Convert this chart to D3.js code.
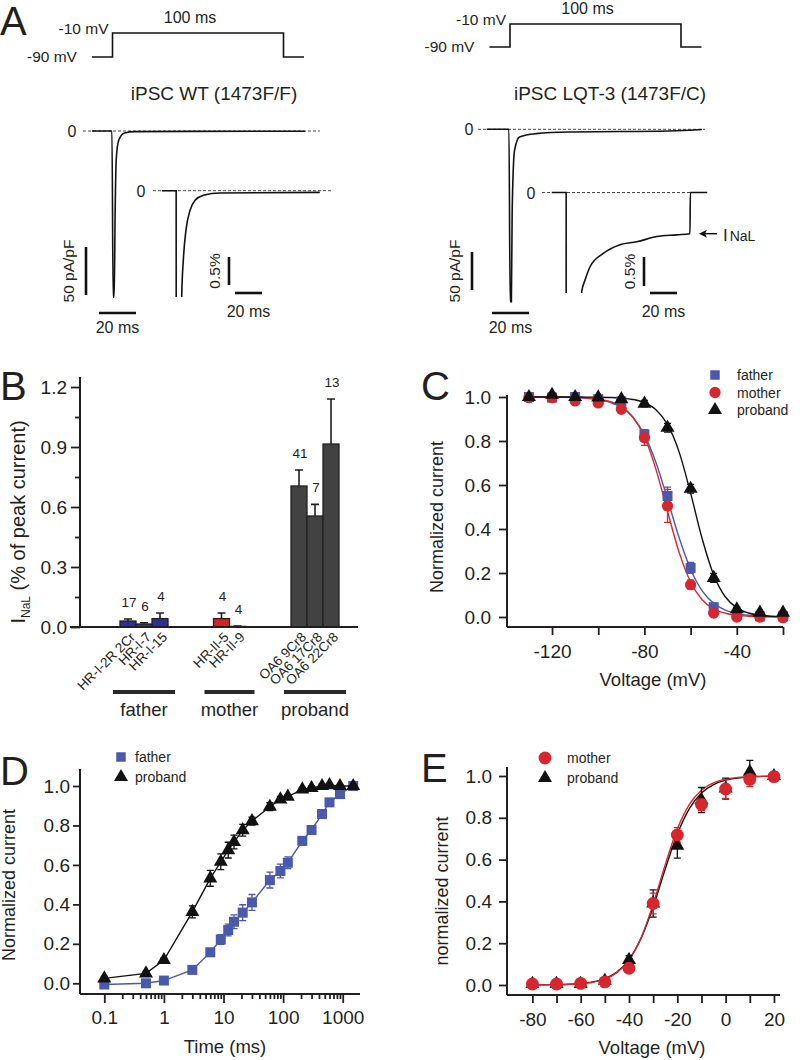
<!DOCTYPE html>
<html lang="en">
<head>
  <meta charset="UTF-8">
  <title>INaL figure</title>
  <style>
    body { margin: 0; background: #fff; }
    svg { font-family: "Liberation Sans", Arial, sans-serif; }
    text { fill: #231f20; }
    .axis path { display: none; }
    .axis line { stroke: #231f20; stroke-width: 1.8px; }
    .axis text { font-size: 19px; font-family: "Liberation Sans", Arial, sans-serif; fill: #231f20; }
    .dom { stroke: #231f20; stroke-width: 2px; }
    .trace { fill: none; stroke: #111; stroke-width: 1.6px; }
    .zero { stroke: #333; stroke-width: 0.9px; stroke-dasharray: 3 2; }
    .bar-scale { stroke: #111; stroke-width: 2.6px; }
  </style>
</head>
<body>
  <svg width="800" height="1060"></svg>
  <script src="https://cdn.jsdelivr.net/npm/d3@7"></script>
  <script>
    // ---------- data ----------
    // A: voltage step protocol (ms, mV)
    var protocolT = [-12, 0, 0, 100, 100, 112]
    var protocolV = [-90, -90, -10, -10, -90, -90]
    // A: recordings, [ms, pA/pF] for the whole trace, [ms, % of peak] for the insets
    var wtMain = [[-11.1, 0], [-0.3, 0], [0.35, -173], [0.9, -173], [1.45, -82], [2, -30], [3.4, -9.4], [6.5, -2], [12, -0.6], [104, -0.2]]
    var wtInset = [[-11.1, 0], [-0.4, 0], [0, -30], [3.6, -30], [3.7, -1.89], [4.9, -1.24], [6.9, -0.7], [9.9, -0.35], [13.6, -0.17], [19.8, -0.08], [32, -0.04], [106, -0.03]]
    var lqtMain = [[-12.3, 0], [-0.3, 0], [0.35, -227], [1.0, -227], [1.45, -107], [2.7, -28], [5.4, -10], [14.4, -5.7], [32, -3.5], [86, -2.2], [100, -1], [104, -0.3]]
    var lqtInset = [[-11.1, 0], [-0.4, 0], [0, -30], [11, -30], [11.1, -1.71], [13.6, -1.51], [17.3, -1.28], [27.1, -1.05], [39.5, -0.9], [51.9, -0.85], [66.7, -0.76], [81.5, -0.73], [91.3, -0.71], [91.6, 0], [104.1, 0]]

    // B: late current per clone
    var bGroups = ['father', 'mother', 'proband']
    var bLines = [['HR-I-2R 2Cr', 'HR-I-7', 'HR-I-15'], ['HR-II-5', 'HR-II-9'], ['OA6 9Cr8', 'OA6 17Cr8', 'OA6 22Cr8']]
    var bValues = [[0.03, 0.015, 0.042], [0.042, 0.003], [0.705, 0.555, 0.915]]
    var bErrors = [[0.01, 0.006, 0.028], [0.028, 0.002], [0.08, 0.058, 0.225]]
    var bCounts = [[17, 6, 4], [4, 4], [41, 7, 13]]
    var bTicks = [0, 0.3, 0.6, 0.9, 1.2]

    // C: steady-state inactivation
    var cVolt = [-130, -120, -110, -100, -90, -80, -70, -60, -50, -40, -30, -20]
    var cFather = [1.0, 0.997, 1.0, 0.99, 0.98, 0.83, 0.55, 0.223, 0.045, 0.012, 0.003, 0.003]
    var cFatherErr = [0, 0, 0, 0.005, 0.01, 0.02, 0.04, 0.025, 0.015, 0.005, 0, 0]
    var cMother = [0.997, 0.997, 0.982, 0.973, 0.944, 0.815, 0.505, 0.147, 0.018, 0.0, 0.0, -0.003]
    var cMotherErr = [0.005, 0.005, 0.01, 0.01, 0.01, 0.035, 0.075, 0.02, 0.01, 0.005, 0, 0]
    var cProband = [1.0, 1.01, 1.0, 0.998, 0.99, 0.97, 0.86, 0.583, 0.178, 0.035, 0.02, 0.02]
    var cProbandErr = [0.005, 0.01, 0.005, 0.005, 0.01, 0.015, 0.02, 0.02, 0.02, 0.01, 0.005, 0.005]
    var cFitV = [-130, -125, -120, -115, -110, -105, -100, -95, -90, -85, -80, -75, -70, -65, -60, -55, -50, -45, -40, -35, -30, -25, -20]
    var cFitFather = [0.9998, 0.9997, 0.9993, 0.9986, 0.9971, 0.9942, 0.9882, 0.9762, 0.9526, 0.908, 0.828, 0.702, 0.536, 0.361, 0.217, 0.119, 0.062, 0.0315, 0.0156, 0.0077, 0.0038, 0.0019, 0.0009]
    var cFitMother = [0.9999, 0.9998, 0.9996, 0.9991, 0.9981, 0.9958, 0.9908, 0.9799, 0.9567, 0.909, 0.819, 0.671, 0.48, 0.295, 0.159, 0.0787, 0.0372, 0.0172, 0.0078, 0.0036, 0.0016, 0.0007, 0.0003]
    var cFitProband = [1.0, 1.0, 1.0, 0.9999, 0.9998, 0.9996, 0.9991, 0.9979, 0.9952, 0.9889, 0.9745, 0.9425, 0.8753, 0.7506, 0.5632, 0.3559, 0.1914, 0.0921, 0.0417, 0.0183, 0.0079, 0.0034, 0.0015]

    // D: recovery from inactivation
    var dTime = [0.1, 0.5, 1, 3, 6, 9, 12, 15, 21, 30, 60, 90, 120, 210, 300, 450, 600, 900, 1500]
    var dFather = [-0.006, 0.0, 0.014, 0.068, 0.157, 0.222, 0.27, 0.312, 0.358, 0.41, 0.523, 0.569, 0.611, 0.722, 0.777, 0.858, 0.917, 0.959, 1.0]
    var dFatherErr = [0.005, 0.005, 0.01, 0.01, 0.02, 0.025, 0.03, 0.035, 0.04, 0.04, 0.04, 0.035, 0.03, 0.02, 0.015, 0.015, 0.01, 0.015, 0]
    var dProband = [0.025, 0.05, 0.118, 0.362, 0.532, 0.616, 0.675, 0.716, 0.776, 0.822, 0.895, 0.932, 0.946, 0.983, 0.99, 1.0, 1.004, 1.0, 1.0]
    var dProbandErr = [0.01, 0.01, 0.01, 0.03, 0.04, 0.04, 0.04, 0.035, 0.03, 0.02, 0.02, 0.015, 0.01, 0.01, 0.01, 0.01, 0.005, 0.005, 0]

    // E: activation
    var eVolt = [-80, -70, -60, -50, -40, -30, -20, -10, 0, 10, 20]
    var eMother = [0.005, 0.005, 0.008, 0.015, 0.08, 0.39, 0.718, 0.864, 0.938, 0.984, 0.997]
    var eMotherErr = [0.01, 0.01, 0.01, 0.01, 0.02, 0.05, 0.035, 0.03, 0.045, 0.035, 0.01]
    var eProband = [0.005, 0.005, 0.005, 0.02, 0.12, 0.39, 0.667, 0.885, 0.94, 1.02, 1.0]
    var eProbandErr = [0.01, 0.01, 0.01, 0.01, 0.02, 0.065, 0.06, 0.06, 0.05, 0.055, 0.02]
    var eFitV = [-80, -75, -70, -65, -60, -55, -50, -45, -40, -35, -30, -25, -20, -15, -10, -5, 0, 5, 10, 15, 20]
    var eFitMother = [0.0003, 0.0006, 0.0013, 0.0029, 0.0062, 0.0133, 0.0282, 0.059, 0.119, 0.226, 0.387, 0.576, 0.746, 0.864, 0.932, 0.967, 0.985, 0.993, 0.997, 0.998, 0.999]
    var eFitProband = [0.0004, 0.0008, 0.0017, 0.0035, 0.0072, 0.0149, 0.0306, 0.0617, 0.121, 0.223, 0.374, 0.555, 0.722, 0.844, 0.919, 0.959, 0.98, 0.99, 0.995, 0.998, 0.999]

    // ---------- drawing ----------
    var svg = d3.select('svg')
    var ink = '#231f20'
    var blue = '#4a59ab'
    var red = '#d7262d'
    var black = '#111'

    svg.append('rect').attr('width', 800).attr('height', 1060).attr('fill', '#fff')

    function label(g, txt, x, y, size, anchor) {
      return g.append('text').attr('x', x).attr('y', y)
        .attr('font-size', size + 'px')
        .attr('text-anchor', anchor || 'start')
        .text(txt)
    }

    function vlabel(g, txt, x, y, size) {
      return g.append('text')
        .attr('transform', 'translate(' + x + ',' + y + ') rotate(-90)')
        .attr('font-size', size + 'px')
        .attr('text-anchor', 'middle')
        .text(txt)
    }

    // panel letters
    label(svg, 'A', 0, 35, 40)
    label(svg, 'B', 0, 400, 40)
    label(svg, 'C', 421, 400, 40)
    label(svg, 'D', 0, 785, 40)
    label(svg, 'E', 421, 782, 40)

    // ---------- A ----------
    var defs = svg.append('defs')

    function recording(g, data, t0x, zeroY, pxMs, pxUnit, width, clipBottom, clipId) {
      var x = d3.scaleLinear().domain([0, 1]).range([t0x, t0x + pxMs])
      var y = d3.scaleLinear().domain([0, -1]).range([zeroY, zeroY + pxUnit])
      var p = g.append('path').datum(data)
        .attr('class', 'trace')
        .attr('stroke-width', width)
        .attr('d', d3.line()
          .x(function(d) { return x(d[0]) })
          .y(function(d) { return y(d[1]) })
          .curve(d3.curveMonotoneX))
      if (clipBottom) {
        defs.append('clipPath').attr('id', clipId)
          .append('rect').attr('x', 0).attr('y', 0).attr('width', 800).attr('height', clipBottom)
        p.attr('clip-path', 'url(#' + clipId + ')')
      }
      return { x: x, y: y }
    }

    function scaleBars(g, s, vx, vBottom, vLen, hx, hy, hLen, vText, hText, vTextX, hTextY) {
      var vPx = s.y(-vLen) - s.y(0)
      var hPx = s.x(hLen) - s.x(0)
      g.append('line').attr('class', 'bar-scale')
        .attr('x1', vx).attr('x2', vx).attr('y1', vBottom - vPx).attr('y2', vBottom)
      g.append('line').attr('class', 'bar-scale')
        .attr('x1', hx).attr('x2', hx + hPx).attr('y1', hy).attr('y2', hy)
      vlabel(g, vText, vTextX, vBottom - vPx / 2, 15.5)
      label(g, hText, hx + hPx / 2, hTextY, 16, 'middle')
    }

    function drawA(cfg) {
      var g = svg.append('g')
      // protocol
      var px = d3.scaleLinear().domain([0, 100]).range([cfg.protoX, cfg.protoX + 171])
      var pv = d3.scaleLinear().domain([-90, -10]).range([cfg.protoLow, cfg.protoHigh])
      g.append('path').datum(protocolV)
        .attr('class', 'trace').attr('stroke-width', 1.8)
        .attr('d', d3.line()
          .x(function(d, i) { return px(protocolT[i]) })
          .y(function(d) { return pv(d) }))
      label(g, '-10 mV', px(0) - 4, pv(-10) + 1, 15.5, 'end')
      label(g, '-90 mV', px(-12) - 15, pv(-90) + 5, 15.5, 'end')
      label(g, '100 ms', px(50) - 8, pv(-10) - 10, 16, 'middle')
      label(g, cfg.title, cfg.titleX, 100, 19, 'middle')

      // whole trace
      g.append('line').attr('class', 'zero')
        .attr('x1', cfg.mainDash[0]).attr('x2', cfg.mainDash[1])
        .attr('y1', cfg.mainZero).attr('y2', cfg.mainZero)
      var sm = recording(g, cfg.main, cfg.mainT0, cfg.mainZero, 1.85, cfg.mainPx, 1.6)
      label(g, '0', cfg.mainZeroLabel, cfg.mainZero + 6, 16, 'middle')
      scaleBars(g, sm, cfg.mainBarX, cfg.mainBarBottom, 50, cfg.mainBarHX, 313, 20,
        '50 pA/pF', '20 ms', cfg.mainBarX - 12, 333)

      // magnified late current
      g.append('line').attr('class', 'zero')
        .attr('x1', cfg.insetDash[0]).attr('x2', cfg.insetDash[1])
        .attr('y1', cfg.insetZero).attr('y2', cfg.insetZero)
      var si = recording(g, cfg.inset, cfg.insetT0, cfg.insetZero, 1.35, cfg.insetPx, 2.2, cfg.insetClip, cfg.clipId)
      label(g, '0', cfg.insetZeroLabel, cfg.insetZero + 6, 16, 'middle')
      scaleBars(g, si, cfg.insetBarX, cfg.insetBarBottom, 0.5, cfg.insetBarHX, 293, 20,
        '0.5%', '20 ms', cfg.insetBarX - 9, 317)
      return si
    }

    drawA({
      protoX: 112.5, protoLow: 57, protoHigh: 33,
      title: 'iPSC WT (1473F/F)', titleX: 214,
      main: wtMain, mainT0: 112.5, mainZero: 131, mainPx: 0.96, mainDash: [83, 320], mainZeroLabel: 72,
      mainBarX: 86, mainBarBottom: 295, mainBarHX: 99,
      inset: wtInset, insetT0: 176.7, insetZero: 190.7, insetPx: 56, insetDash: [153, 333], insetZeroLabel: 141,
      insetClip: 297, clipId: 'clipWT',
      insetBarX: 229, insetBarBottom: 285, insetBarHX: 235
    })

    var lq = drawA({
      protoX: 510, protoLow: 47, protoHigh: 24,
      title: 'iPSC LQT-3 (1473F/C)', titleX: 610,
      main: lqtMain, mainT0: 509.5, mainZero: 129.3, mainPx: 0.76, mainDash: [478, 705], mainZeroLabel: 469,
      mainBarX: 472, mainBarBottom: 290, mainBarHX: 492,
      inset: lqtInset, insetT0: 566.7, insetZero: 192.5, insetPx: 58, insetDash: [542, 707], insetZeroLabel: 531,
      insetClip: 293, clipId: 'clipLQT',
      insetBarX: 644, insetBarBottom: 286, insetBarHX: 650
    })

    // INaL arrow, pointing at the end of the late current
    var endPt = lqtInset[12]
    var ax = lq.x(endPt[0]) + 9
    var ay = lq.y(endPt[1])
    svg.append('line').attr('x1', ax + 3).attr('x2', ax + 18).attr('y1', ay).attr('y2', ay)
      .attr('stroke', black).attr('stroke-width', 1.5)
    svg.append('path')
      .attr('d', 'M' + ax + ',' + ay + 'L' + (ax + 8) + ',' + (ay - 4) + 'L' + (ax + 6) + ',' + ay + 'L' + (ax + 8) + ',' + (ay + 4) + 'Z')
      .attr('fill', black)
    var inal = svg.append('text').attr('x', ax + 24).attr('y', ay + 7)
    inal.append('tspan').attr('font-size', '17px').text('I')
    inal.append('tspan').attr('font-size', '14px').attr('dx', 2).text('NaL')

    // ---------- B ----------
    var gB = svg.append('g')
    var bx = d3.scaleBand().domain(bGroups).range([101.25, 357.75])
    var by = d3.scaleLinear().domain([0, 1.2]).range([627, 387])
    var barW = 16
    var bColors = ['#2e3192', '#d2232a', '#424242']

    gB.append('g').attr('class', 'axis').attr('transform', 'translate(80,0)')
      .call(d3.axisLeft(by).tickValues(bTicks).tickFormat(d3.format('.1f')).tickSize(9).tickPadding(4))
    gB.append('g').attr('class', 'axis').attr('transform', 'translate(80,0)')
      .call(d3.axisLeft(by).tickValues([0.15, 0.45, 0.75, 1.05]).tickFormat('').tickSize(5))
    gB.append('line').attr('class', 'dom').attr('x1', 80).attr('x2', 80).attr('y1', by(1.25)).attr('y2', by(0))

    bGroups.forEach(function(grp, gi) {
      var n = bValues[gi].length
      var cx = bx(grp) + bx.bandwidth() / 2
      bValues[gi].forEach(function(v, i) {
        var xc = cx + (i - (n - 1) / 2) * barW
        var top = v + bErrors[gi][i]
        gB.append('path')
          .attr('d', 'M' + xc + ',' + by(v) + 'V' + by(top) + 'M' + (xc - 4) + ',' + by(top) + 'H' + (xc + 4))
          .attr('stroke', ink).attr('stroke-width', 1.6).attr('fill', 'none')
        gB.append('rect')
          .attr('x', xc - barW / 2).attr('y', by(v))
          .attr('width', barW).attr('height', by(0) - by(v))
          .attr('fill', bColors[gi]).attr('stroke', ink).attr('stroke-width', 1.3)
        label(gB, bCounts[gi][i], xc + 1, by(top) - 12, 13.5, 'middle')
        gB.append('text')
          .attr('transform', 'translate(' + (xc + 8) + ',638) rotate(-45)')
          .attr('font-size', '13.5px').attr('text-anchor', 'end')
          .text(bLines[gi][i])
      })
      var half = Math.max(n * barW + 14, 50) / 2
      gB.append('line').attr('x1', cx - half).attr('x2', cx + half).attr('y1', 692).attr('y2', 692)
        .attr('stroke', '#2a2a2a').attr('stroke-width', 4)
      label(gB, grp, cx, 716, 18.5, 'middle')
    })
    gB.append('line').attr('class', 'dom').attr('x1', 70).attr('x2', 358).attr('y1', by(0)).attr('y2', by(0))

    var bTitle = gB.append('text')
      .attr('transform', 'translate(25,522) rotate(-90)')
      .attr('text-anchor', 'middle').attr('font-size', '20px')
    bTitle.append('tspan').text('I')
    bTitle.append('tspan').attr('font-size', '12px').attr('dy', 5).text('NaL')
    bTitle.append('tspan').attr('dy', -5).text(' (% of peak current)')

    // ---------- shared helpers for C-E ----------
    function errBars(g, x, y, xs, ys, es, color) {
      xs.forEach(function(xv, i) {
        var e = es[i]
        if (!e) return
        var cx = x(xv), y1 = y(ys[i] - e), y2 = y(ys[i] + e)
        g.append('path')
          .attr('d', 'M' + cx + ',' + y1 + 'V' + y2 + 'M' + (cx - 3.5) + ',' + y2 + 'H' + (cx + 3.5) + 'M' + (cx - 3.5) + ',' + y1 + 'H' + (cx + 3.5))
          .attr('stroke', color).attr('stroke-width', 1.3).attr('fill', 'none')
      })
    }
    function marks(g, x, y, xs, ys, type, size, color) {
      g.selectAll(null).data(ys).enter().append('path')
        .attr('transform', function(d, i) { return 'translate(' + x(xs[i]) + ',' + y(d) + ')' })
        .attr('d', d3.symbol().type(type).size(size)())
        .attr('fill', color)
    }
    function curve(g, x, y, xs, ys, color, c) {
      g.append('path').datum(ys)
        .attr('d', d3.line()
          .x(function(d, i) { return x(xs[i]) })
          .y(function(d) { return y(d) })
          .curve(c || d3.curveLinear))
        .attr('fill', 'none').attr('stroke', color).attr('stroke-width', 1.4)
    }
    function legend(g, items, x, y0, step, tx) {
      items.forEach(function(it, i) {
        g.append('path')
          .attr('transform', 'translate(' + x + ',' + (y0 + i * step) + ')')
          .attr('d', d3.symbol().type(it.type).size(it.size)())
          .attr('fill', it.color)
        label(g, it.name, tx, y0 + i * step + 5, 14)
      })
    }
    var yFmt = d3.format('.1f')
    var yTicks = [0, 0.2, 0.4, 0.6, 0.8, 1.0]

    // ---------- C ----------
    var gC = svg.append('g')
    var cx = d3.scaleLinear().domain([-139.5, -20]).range([507, 783])
    var cy = d3.scaleLinear().domain([0, 1]).range([617, 397])
    gC.append('g').attr('class', 'axis').attr('transform', 'translate(507,0)')
      .call(d3.axisLeft(cy).tickValues(yTicks).tickFormat(yFmt).tickSize(8).tickPadding(8))
    gC.append('g').attr('class', 'axis').attr('transform', 'translate(0,627)')
      .call(d3.axisBottom(cx).tickValues([-120, -100, -80, -60, -40, -20]).tickSize(8).tickPadding(10)
        .tickFormat(function(d) { return d % 40 === 0 ? d : '' }))
    gC.append('line').attr('class', 'dom').attr('x1', 507).attr('x2', 507).attr('y1', 395).attr('y2', 627)
    gC.append('line').attr('class', 'dom').attr('x1', 507).attr('x2', 783).attr('y1', 627).attr('y2', 627)
    curve(gC, cx, cy, cFitV, cFitFather, blue, d3.curveMonotoneX)
    curve(gC, cx, cy, cFitV, cFitMother, red, d3.curveMonotoneX)
    curve(gC, cx, cy, cFitV, cFitProband, black, d3.curveMonotoneX)
    errBars(gC, cx, cy, cVolt, cFather, cFatherErr, blue)
    errBars(gC, cx, cy, cVolt, cMother, cMotherErr, red)
    errBars(gC, cx, cy, cVolt, cProband, cProbandErr, black)
    marks(gC, cx, cy, cVolt, cFather, d3.symbolSquare, 100, blue)
    marks(gC, cx, cy, cVolt, cMother, d3.symbolCircle, 100, red)
    marks(gC, cx, cy, cVolt, cProband, d3.symbolTriangle, 85, black)
    legend(gC, [
      { name: 'father', type: d3.symbolSquare, size: 90, color: blue },
      { name: 'mother', type: d3.symbolCircle, size: 100, color: red },
      { name: 'proband', type: d3.symbolTriangle, size: 85, color: black }
    ], 715, 375, 17.5, 737)
    vlabel(gC, 'Normalized current', 443, 517, 18)
    label(gC, 'Voltage (mV)', 653, 686, 18.5, 'middle')

    // ---------- D ----------
    var gD = svg.append('g')
    var dx = d3.scaleLog().domain([0.0391, 1950]).range([80, 360])
    var dy = d3.scaleLinear().domain([0, 1]).range([983.3, 786])
    var dMinor = []
    ;[0.1, 1, 10, 100].forEach(function(dec) {
      for (var k = 2; k <= 9; k++) dMinor.push(dec * k)
    })
    gD.append('g').attr('class', 'axis').attr('transform', 'translate(80,0)')
      .call(d3.axisLeft(dy).tickValues(yTicks).tickFormat(yFmt).tickSize(7).tickPadding(3))
    gD.append('g').attr('class', 'axis').attr('transform', 'translate(0,994)')
      .call(d3.axisBottom(dx).tickValues([0.1, 1, 10, 100, 1000]).tickSize(9).tickPadding(8)
        .tickFormat(function(d) { return String(d) }))
    gD.append('g').attr('class', 'axis').attr('transform', 'translate(0,994)')
      .call(d3.axisBottom(dx).tickValues(dMinor).tickSize(5).tickFormat(''))
    gD.append('line').attr('class', 'dom').attr('x1', 80).attr('x2', 80).attr('y1', 769).attr('y2', 994)
    gD.append('line').attr('class', 'dom').attr('x1', 80).attr('x2', 360).attr('y1', 994).attr('y2', 994)
    curve(gD, dx, dy, dTime, dFather, blue)
    errBars(gD, dx, dy, dTime, dFather, dFatherErr, blue)
    marks(gD, dx, dy, dTime, dFather, d3.symbolSquare, 100, blue)
    curve(gD, dx, dy, dTime, dProband, black)
    errBars(gD, dx, dy, dTime, dProband, dProbandErr, black)
    marks(gD, dx, dy, dTime, dProband, d3.symbolTriangle, 85, black)
    legend(gD, [
      { name: 'father', type: d3.symbolSquare, size: 90, color: blue },
      { name: 'proband', type: d3.symbolTriangle, size: 85, color: black }
    ], 121, 757, 20, 135)
    vlabel(gD, 'Normalized current', 15, 885, 18)
    label(gD, 'Time (ms)', 225, 1053, 18.5, 'middle')

    // ---------- E ----------
    var gE = svg.append('g')
    var ex = d3.scaleLinear().domain([-90.5, 22.5]).range([507, 780])
    var ey = d3.scaleLinear().domain([0, 1]).range([985, 776])
    gE.append('g').attr('class', 'axis').attr('transform', 'translate(507,0)')
      .call(d3.axisLeft(ey).tickValues(yTicks).tickFormat(yFmt).tickSize(8).tickPadding(7))
    gE.append('g').attr('class', 'axis').attr('transform', 'translate(0,995)')
      .call(d3.axisBottom(ex).tickValues(eVolt).tickSize(8).tickPadding(10)
        .tickFormat(function(d) { return d % 20 === 0 ? d : '' }))
    gE.append('line').attr('class', 'dom').attr('x1', 507).attr('x2', 507).attr('y1', 767).attr('y2', 995)
    gE.append('line').attr('class', 'dom').attr('x1', 507).attr('x2', 780).attr('y1', 995).attr('y2', 995)
    curve(gE, ex, ey, eFitV, eFitProband, black, d3.curveMonotoneX)
    curve(gE, ex, ey, eFitV, eFitMother, red, d3.curveMonotoneX)
    errBars(gE, ex, ey, eVolt, eProband, eProbandErr, black)
    errBars(gE, ex, ey, eVolt, eMother, eMotherErr, red)
    marks(gE, ex, ey, eVolt, eProband, d3.symbolTriangle, 85, black)
    marks(gE, ex, ey, eVolt, eMother, d3.symbolCircle, 130, red)
    legend(gE, [
      { name: 'mother', type: d3.symbolCircle, size: 130, color: red },
      { name: 'proband', type: d3.symbolTriangle, size: 85, color: black }
    ], 545, 758, 20, 567)
    vlabel(gE, 'normalized current', 448, 891, 18)
    label(gE, 'Voltage (mV)', 652, 1054, 18.5, 'middle')
  </script>
</body>
</html>
